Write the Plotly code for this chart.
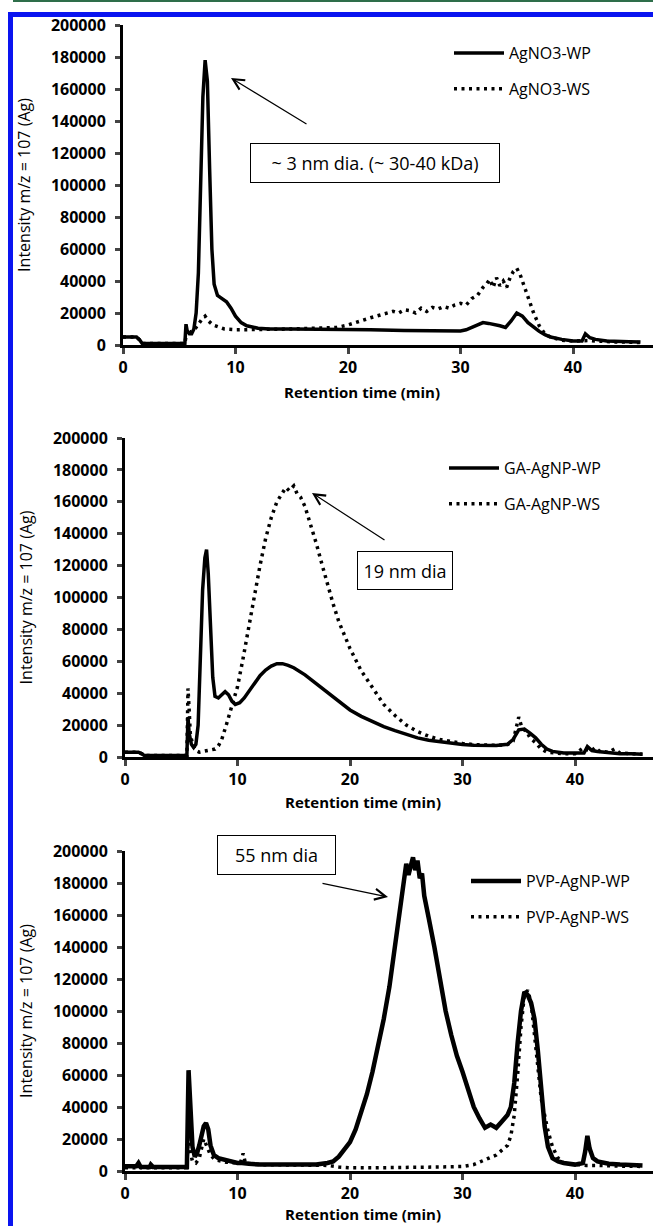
import plotly.graph_objects as go

W, H = 653, 1226

# ---------------- data ----------------
agno3_wp_x = [0, 1.2, 1.5, 1.7, 5.5, 5.6, 5.7, 5.9, 6.1, 6.3, 6.5, 6.7, 6.9, 7.1, 7.3, 7.5, 7.7, 7.9, 8.1, 8.4, 8.8, 9.2, 9.6, 10, 10.5, 11, 12, 13, 15, 18, 20, 22, 25, 28, 30, 30.5, 31, 31.5, 32, 32.5, 33, 33.5, 34, 34.5, 35, 35.5, 36, 36.5, 37, 37.5, 38, 39, 40, 40.8, 41.1, 41.5, 42, 43, 44, 45, 46]
agno3_wp_y = [5000, 5000, 3000, 1000, 1000, 13000, 9000, 7000, 7000, 10000, 20000, 45000, 100000, 155000, 178000, 165000, 110000, 60000, 38000, 31000, 29000, 27000, 23000, 18000, 14000, 12000, 10500, 10000, 10000, 10000, 9800, 9500, 9000, 8800, 8800, 9500, 11000, 12500, 14000, 13500, 13000, 12000, 11000, 15000, 20000, 18000, 14000, 11000, 8500, 6500, 5000, 3500, 2500, 2500, 7000, 4500, 3500, 2500, 2000, 2000, 1800]

agno3_ws_x = [0, 1.2, 1.5, 1.7, 5.5, 5.7, 6.0, 6.3, 6.6, 7.0, 7.3, 7.6, 8.0, 8.5, 9, 10, 11, 12, 13, 15, 17, 19, 20, 21, 22, 23, 24, 24.5, 25, 25.5, 26, 26.5, 27, 27.5, 28, 28.5, 29, 29.5, 30, 30.5, 31, 31.5, 32, 32.3, 32.6, 32.9, 33.2, 33.5, 33.8, 34.1, 34.4, 34.7, 35.0, 35.3, 35.6, 36, 36.5, 37, 37.5, 38, 39, 40, 41, 41.5, 42, 43, 44, 45, 46]
agno3_ws_y = [5000, 5000, 3000, 1000, 1000, 10000, 8000, 9000, 12000, 16000, 18000, 15000, 12500, 11000, 10000, 9500, 9500, 9500, 9800, 10000, 10500, 11000, 12500, 15000, 17000, 19000, 21000, 20000, 22000, 21500, 20000, 23000, 21000, 23500, 22500, 24000, 23000, 25000, 26000, 25000, 29000, 31000, 36000, 38000, 41000, 36000, 42000, 37000, 40000, 36000, 42000, 46000, 48000, 44000, 38000, 30000, 20000, 12000, 7000, 5000, 3000, 2500, 3000, 2800, 2500, 2000, 1800, 1800, 1500]

ga_wp_x = [0, 1.2, 1.5, 1.7, 5.5, 5.6, 5.7, 5.9, 6.1, 6.3, 6.5, 6.7, 6.9, 7.1, 7.25, 7.4, 7.6, 7.8, 8.0, 8.3, 8.6, 8.9, 9.2, 9.5, 9.8, 10.2, 10.6, 11, 11.5, 12, 12.5, 13, 13.5, 14, 14.5, 15, 16, 17, 18, 19, 20, 21, 22, 23, 24, 25, 26, 27, 28, 29, 30, 31, 32, 33, 34, 34.5, 35, 35.5, 36, 36.5, 37, 37.5, 38, 39, 40, 40.8, 41.1, 41.5, 42, 43, 44, 45, 46]
ga_wp_y = [3000, 3000, 2000, 1000, 1000, 25000, 15000, 8000, 6000, 8000, 20000, 60000, 105000, 125000, 130000, 115000, 80000, 50000, 38000, 37000, 39000, 41000, 39000, 35000, 33000, 34000, 37000, 41000, 46000, 51000, 54500, 57000, 58500, 58500, 57500, 56000, 51500, 46000, 40000, 34500, 29500, 25500, 22000, 19000, 16500, 14000, 12000, 10500, 9500, 8500, 7800, 7300, 7000, 7200, 8000, 11000, 17000, 17500, 15000, 12000, 8000, 5000, 3500, 2500, 2500, 2500, 6500, 4000, 3500, 2500, 2000, 2000, 1800]

ga_ws_x = [0, 1.2, 1.5, 1.7, 5.5, 5.6, 5.7, 5.8, 6.0, 6.3, 6.6, 7.0, 7.5, 8.0, 8.3, 8.6, 9.0, 9.3, 9.6, 10.0, 10.5, 11.0, 11.5, 12.0, 12.5, 13.0, 13.5, 14.0, 14.3, 14.6, 15.0, 15.3, 15.6, 16.0, 16.5, 17.0, 17.5, 18.0, 18.5, 19, 20, 21, 22, 23, 24, 25, 26, 27, 28, 29, 30, 31, 32, 33, 34, 34.5, 35, 35.3, 35.7, 36, 36.5, 37, 37.5, 38, 39, 40, 40.8, 41.1, 41.5, 41.8, 42.2, 43, 43.5, 44, 45, 46]
ga_ws_y = [3000, 3000, 2000, 1000, 1000, 43000, 30000, 15000, 8000, 4000, 3000, 3500, 4000, 5000, 7000, 11000, 20000, 27000, 34000, 44000, 62000, 82000, 102000, 120000, 137000, 150000, 160000, 166000, 169000, 167000, 170000, 165000, 163000, 157000, 146000, 134000, 121000, 108000, 96000, 85000, 68000, 54000, 43000, 33000, 26000, 20000, 16000, 13000, 11000, 9500, 8500, 7800, 7300, 7300, 7800, 10000, 25000, 18000, 16000, 12000, 9000, 5000, 3000, 2500, 2000, 2000, 6000, 4500, 4000, 6000, 3500, 3000, 5000, 2500, 2000, 1800]

pvp_wp_x = [0, 1.0, 1.2, 1.4, 2.2, 2.3, 2.5, 5.5, 5.65, 5.8, 6.0, 6.2, 6.4, 6.6, 6.8, 7.0, 7.2, 7.4, 7.6, 7.9, 8.3, 9, 10, 10.4, 10.6, 11, 12, 14, 16, 17, 18, 18.5, 19, 19.5, 20, 20.5, 21, 21.5, 22, 22.5, 23, 23.5, 23.8, 24.0, 24.2, 24.4, 24.6, 24.8, 25.0, 25.2, 25.4, 25.6, 25.8, 26.0, 26.2, 26.4, 26.6, 26.8, 27.0, 27.5, 28, 28.5, 29, 29.5, 30, 30.5, 31, 31.5, 32, 32.5, 33, 33.5, 34, 34.3, 34.6, 34.9, 35.2, 35.5, 35.8, 36.1, 36.4, 36.7, 37, 37.3, 37.6, 38, 38.5, 39, 40, 40.7, 40.9, 41.1, 41.3, 41.6, 42, 43, 44, 45, 46]
pvp_wp_y = [3000, 3000, 5000, 2500, 2500, 4000, 2500, 2500, 63000, 35000, 15000, 9000, 11000, 16000, 24000, 28000, 30000, 26000, 16000, 10000, 8000, 6500, 5000, 5000, 5000, 4500, 4000, 3800, 3800, 4000, 5000, 6000, 9000, 13000, 18000, 26000, 36000, 48000, 62000, 78000, 95000, 115000, 130000, 140000, 150000, 160000, 172000, 182000, 192000, 185000, 190000, 196000, 188000, 194000, 183000, 186000, 172000, 166000, 158000, 140000, 118000, 100000, 85000, 72000, 62000, 50000, 40000, 33000, 27000, 29000, 27000, 31000, 35000, 40000, 55000, 80000, 100000, 112000, 110000, 105000, 95000, 75000, 50000, 28000, 15000, 8000, 6000, 5000, 4000, 5000, 12000, 22000, 14000, 8000, 6000, 4500, 4000, 4000, 3500]

pvp_ws_x = [0, 1.0, 1.2, 1.4, 5.5, 5.65, 5.8, 6.0, 6.3, 6.6, 7.0, 7.3, 7.6, 8.0, 9, 10, 10.3, 10.5, 10.7, 12, 15, 18, 19, 20, 22, 25, 28, 30, 31, 32, 33, 33.5, 34, 34.3, 34.6, 34.9, 35.2, 35.5, 35.8, 36.1, 36.4, 36.7, 37, 37.3, 37.6, 38, 38.5, 39, 40, 41, 42, 43, 44, 45, 46]
pvp_ws_y = [2000, 2000, 3000, 2000, 2000, 30000, 12000, 6000, 5000, 8000, 20000, 15000, 10000, 7000, 5500, 5000, 6000, 11000, 5000, 4000, 3500, 3500, 2500, 2000, 2000, 2000, 2500, 2800, 4000, 7000, 10000, 13000, 16000, 22000, 35000, 60000, 90000, 110000, 113000, 105000, 85000, 62000, 45000, 35000, 25000, 15000, 8000, 5000, 4000, 3500, 3500, 3000, 3000, 3000, 2800]

panels = [
    ("AgNO3-WP", agno3_wp_x, agno3_wp_y, "AgNO3-WS", agno3_ws_x, agno3_ws_y),
    ("GA-AgNP-WP", ga_wp_x, ga_wp_y, "GA-AgNP-WS", ga_ws_x, ga_ws_y),
    ("PVP-AgNP-WP", pvp_wp_x, pvp_wp_y, "PVP-AgNP-WS", pvp_ws_x, pvp_ws_y),
]

y_ticks = [0, 20000, 40000, 60000, 80000, 100000, 120000, 140000, 160000, 180000, 200000]
x_ticks = [0, 10, 20, 30, 40]
x_title = "Retention time (min)"
y_title = "Intensity m/z = 107 (Ag)"

# ---------------- layout helpers (pixel -> paper) ----------------
def px(x):
    return x / W

def py(y):
    return 1 - y / H

FONT = "Open Sans, Lato, DejaVu Sans, sans-serif"

# plot areas in pixels: (left, right, top, bottom)
areas = [(123, 653, 25, 345), (125, 653, 438, 757), (125, 653, 851, 1171)]
x_title_pos = [(362, 392), (363, 802), (363, 1214)]
x_px_per_min = 11.25
legend_pos = [(449, 36), (444, 451), (466, 864)]
wp_width = [3.5, 3.5, 4.5]

fig = go.Figure()
for i, (n1, x1, y1, n2, x2, y2) in enumerate(panels):
    k = "" if i == 0 else str(i + 1)
    lg = "legend" if i == 0 else f"legend{i + 1}"
    fig.add_trace(go.Scatter(x=x1, y=y1, name=n1, mode="lines",
                             line=dict(color="black", width=wp_width[i]),
                             xaxis="x" + k, yaxis="y" + k, legend=lg,
                             legendgroup=f"a{i}", hoverinfo="skip"))
    fig.add_trace(go.Scatter(x=x2, y=y2, name=n2, mode="lines",
                             line=dict(color="black", width=3.5, dash="3px,4.5px"),
                             xaxis="x" + k, yaxis="y" + k, legend=lg,
                             legendgroup=f"b{i}", hoverinfo="skip"))

layout = dict(
    width=W, height=H,
    margin=dict(l=0, r=0, t=0, b=0),
    paper_bgcolor="white", plot_bgcolor="white",
    font=dict(family=FONT, color="black"),
    showlegend=True,
)

for i, (l, r, t, b) in enumerate(areas):
    k = "" if i == 0 else str(i + 1)
    xmax = (r - l) / x_px_per_min
    layout["xaxis" + k] = dict(
        domain=[px(l), px(r)], range=[0, xmax], anchor="y" + k,
        tickvals=x_ticks, ticks="outside", ticklen=6, tickwidth=3,
        showline=True, linewidth=3, linecolor="black", showgrid=False,
        zeroline=False, tickfont=dict(size=16, family=FONT, weight="bold"),
        automargin=False,
    )
    layout["yaxis" + k] = dict(
        domain=[py(b), py(t)], range=[0, 200000], anchor="x" + k,
        tickvals=y_ticks, tickformat="d", ticks="outside", ticklen=5, tickwidth=3,
        showline=True, linewidth=3, linecolor="black", showgrid=False,
        zeroline=False, tickfont=dict(size=16, family=FONT, weight="bold"),
        ticklabelstandoff=6,
        title=dict(text=y_title, font=dict(size=16, family=FONT), standoff=17),
        automargin=False,
    )
    lgname = "legend" if i == 0 else f"legend{i + 1}"
    lx, ly = legend_pos[i]
    layout[lgname] = dict(
        x=px(lx), y=py(ly), xanchor="left", yanchor="top",
        bgcolor="rgba(0,0,0,0)", font=dict(size=16, family=FONT),
        traceorder="grouped", tracegroupgap=12, itemwidth=50,
    )

fig.update_layout(**layout)

annotations = []
# x-axis titles
for cx, cy in x_title_pos:
    annotations.append(dict(
        text=x_title, xref="paper", yref="paper", x=px(cx), y=py(cy),
        xanchor="center", yanchor="middle", showarrow=False,
        font=dict(size=15, family=FONT, weight="bold"),
    ))

# text boxes
boxes = [("~ 3 nm dia. (~ 30-40 kDa)", 250, 500, 143, 183),
         ("19 nm dia", 357, 453, 551, 590),
         ("55 nm dia", 217, 336, 835, 875)]
for txt, x0, x1, y0, y1 in boxes:
    annotations.append(dict(
        text=txt, xref="paper", yref="paper", x=px((x0 + x1) / 2), y=py((y0 + y1) / 2),
        xanchor="center", yanchor="middle", showarrow=False,
        width=x1 - x0 - 4, height=y1 - y0 - 4, borderpad=1,
        bordercolor="black", borderwidth=1, bgcolor="white",
        font=dict(size=18, family=FONT),
    ))

# arrows (head, tail) in pixels
arrows = [((231, 78), (308, 125)), ((312, 493), (386, 541)), ((388, 897), (321, 883))]
for (hx, hy), (tx, ty) in arrows:
    annotations.append(dict(
        text="", xref="paper", yref="paper", x=px(hx), y=py(hy),
        ax=tx - hx, ay=ty - hy, showarrow=True, arrowhead=5,
        arrowsize=1.8, arrowwidth=1.2, arrowcolor="black",
    ))

fig.update_layout(annotations=annotations)

# page frame (green rule and blue border)
shapes = [
    dict(type="rect", xref="paper", yref="paper", x0=px(13), x1=1, y0=py(2), y1=1,
         fillcolor="#2e6e4a", line=dict(width=0)),
    dict(type="rect", xref="paper", yref="paper", x0=px(8), x1=1, y0=py(17), y1=py(12),
         fillcolor="#0a14f0", line=dict(width=0)),
    dict(type="rect", xref="paper", yref="paper", x0=px(8), x1=px(13), y0=0, y1=py(12),
         fillcolor="#0a14f0", line=dict(width=0)),
]
fig.update_layout(shapes=shapes)

fig.write_html(
    "out.html",
    config={"displayModeBar": False},
    post_script="document.body.style.margin='0px';document.documentElement.style.overflow='hidden';",
)
